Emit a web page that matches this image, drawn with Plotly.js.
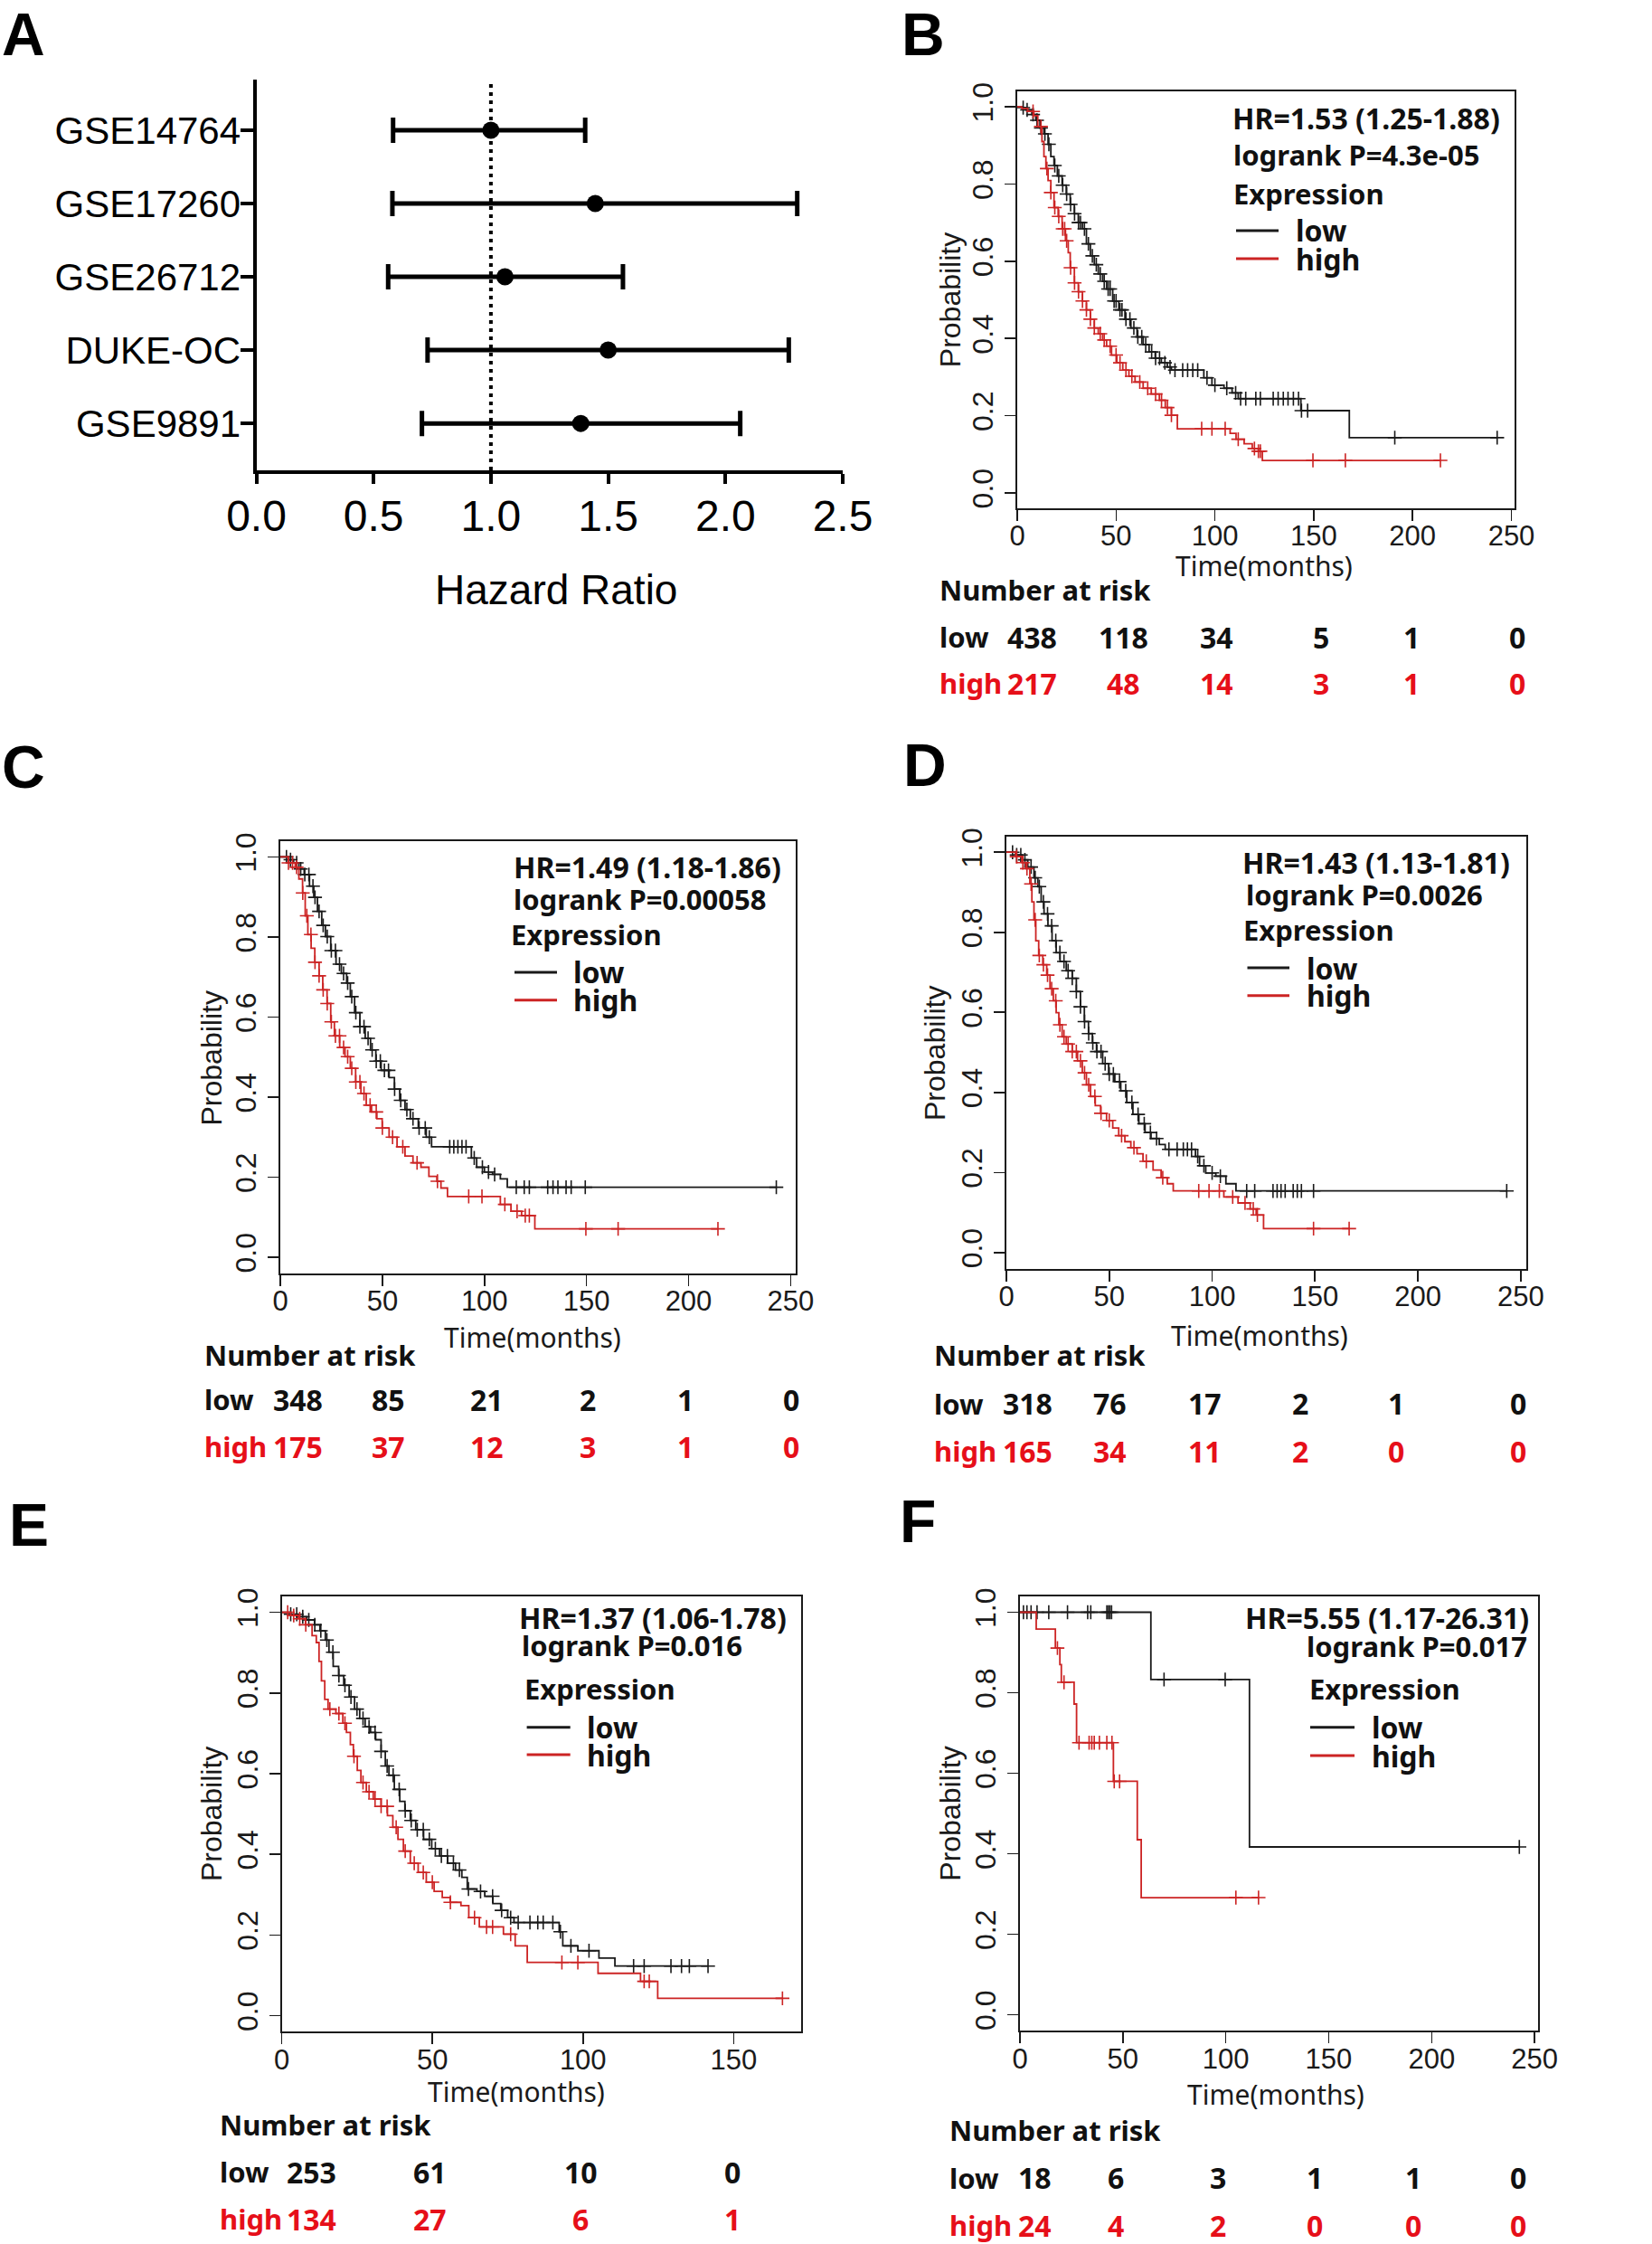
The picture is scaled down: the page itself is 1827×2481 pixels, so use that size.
<!DOCTYPE html>
<html>
<head>
<meta charset="utf-8">
<script src="https://cdn.plot.ly/plotly-3.0.1.min.js"></script>
<style>
html,body{margin:0;padding:0;background:#fff;}
#chart{width:1827px;height:2481px;}
</style>
</head>
<body>
<div id="chart"></div>
<script>
// ---------------- DATA ----------------
// Panel A: forest plot
const datasets = ['GSE14764','GSE17260','GSE26712','DUKE-OC','GSE9891'];
const hr       = [1.00, 1.445, 1.06, 1.50, 1.383];
const ciLow    = [0.583, 0.58, 0.562, 0.73, 0.706];
const ciHigh   = [1.402, 2.306, 1.563, 2.27, 2.063];
const refHR    = 1.0;
const hrTicks  = [0, 0.5, 1.0, 1.5, 2.0, 2.5];
const hrTickText = ['0.0','0.5','1.0','1.5','2.0','2.5'];

// Kaplan-Meier tick labels
const probTicks = [0, 0.2, 0.4, 0.6, 0.8, 1.0];
const probTickText = ['0.0','0.2','0.4','0.6','0.8','1.0'];
const timeTicks250 = [0, 50, 100, 150, 200, 250];
const timeTicks150 = [0, 50, 100, 150];

// Panel B
const bLowT = [0,2.3,4.3,7.4,9.4,11.5,13.5,15.6,17,18.6,20.3,22.7,24.8,26.8,28.9,30.9,33,35,37,39,41,43.2,45.2,48.3,51.4,54.5,57.5,60.6,63.7,66.7,69.8,72.9,75.9,78,94.4,98.5,104.6,108.7,111.8,143.5,168,242.8];
const bLowS = [1,0.998,0.992,0.98,0.965,0.945,0.93,0.903,0.871,0.848,0.821,0.797,0.774,0.747,0.723,0.70,0.684,0.645,0.614,0.591,0.567,0.548,0.528,0.497,0.474,0.45,0.427,0.404,0.384,0.365,0.349,0.337,0.326,0.318,0.298,0.279,0.271,0.259,0.244,0.213,0.143,0.143];
const bLowCens = [3,5,8,10,12,14,16,19,21,23,25,27,29,31,32,34,36,38,40,42,44,46,47,49,50,52,53,55,57,59,61,63,65,68,70,72,74.7,77.3,79.8,83.7,86.2,88.8,91.3,96,100,106,110.5,113,115.6,120.7,123,129.5,132,134.6,137,139.7,142.3,143.8,146.9,191,242.8];
const bHighT = [0,2.3,5.3,8.4,10.4,12.5,13.5,14.5,15.6,17,18.6,20.7,22.7,24.4,25.8,26.8,28.9,30.9,33,35,37,39,41,43.2,45.2,47.7,50.4,53.4,56.5,59.6,63.7,67.8,71.9,74.9,78,81,107.7,110.7,114.8,118.9,122,124,214.1];
const bHighS = [1,0.996,0.988,0.977,0.949,0.91,0.871,0.84,0.809,0.778,0.739,0.716,0.684,0.653,0.622,0.583,0.544,0.521,0.497,0.474,0.45,0.427,0.412,0.396,0.38,0.357,0.337,0.318,0.302,0.287,0.271,0.256,0.24,0.221,0.201,0.166,0.154,0.139,0.127,0.115,0.108,0.084,0.084];
const bHighCens = [8,12,15,17,19,21,23,24,25,27,29,31,33,35,37,39,42,44,47,50,52,55,58,62,66,70,73,76,78,93.3,98.5,105.2,111.8,120,122,123,149.6,166,214.1];
const bRiskLow  = [438,118,34,5,1,0];
const bRiskHigh = [217,48,14,3,1,0];
const bHR = 'HR=1.53 (1.25-1.88)';
const bP  = 'logrank P=4.3e-05';

// Panel C
const cLowT = [0,3.9,6.5,9.1,11.7,14.3,16.4,18.2,20.3,22.1,24.7,27.3,29.9,32.5,34.3,36.4,39,41.6,44.2,46.8,49.4,53.3,55.9,58.5,61.1,63.7,67.6,71.5,74.1,93.6,96.2,100,104,107.8,111.2,243];
const cLowS = [1,0.993,0.985,0.97,0.956,0.927,0.899,0.864,0.829,0.801,0.766,0.732,0.709,0.685,0.651,0.611,0.576,0.547,0.518,0.49,0.467,0.449,0.42,0.392,0.369,0.346,0.323,0.30,0.276,0.248,0.225,0.213,0.207,0.196,0.175,0.175];
const cLowCens = [3,5,8,10,12,14,16,17,19,21,23,25,27,29,31,33,35,37,39,41,43,45,47,49,51,53,56,59,62,65,68,71,73,83,85,87,89,91,95,99,102,105,115.6,119.5,122,131,133.6,136,140,142.5,149.4,243];
const cHighT = [0,3.9,7.3,9.1,10.9,12.2,13.5,15.1,16.9,19,20.8,22.9,24.7,26.5,29.1,31.7,34.3,36.9,39.5,42.1,44.7,47.3,49.9,53.3,57.2,61.1,65,68.9,72.8,76.7,78.7,81.9,107.8,113,118.2,124.7,214.4];
const cHighS = [1,0.985,0.974,0.945,0.91,0.853,0.806,0.772,0.737,0.703,0.668,0.634,0.588,0.553,0.524,0.501,0.472,0.438,0.409,0.38,0.363,0.346,0.323,0.30,0.276,0.253,0.236,0.225,0.202,0.19,0.173,0.152,0.132,0.115,0.104,0.071,0.071];
const cHighCens = [4,6,8,11,13,15,17,19,21,23,25,27,29,31,33,35,37,39,41,44,47,50,55,60,67,77,92.3,98.8,110,116,120,122,149.7,165.5,214.4];
const cRiskLow  = [348,85,21,2,1,0];
const cRiskHigh = [175,37,12,3,1,0];
const cHR = 'HR=1.49 (1.18-1.86)';
const cP  = 'logrank P=0.00058';

// Panel D
const dLowT = [0,4.5,7.5,10.4,13.4,15.3,16.9,18.3,20.2,22.2,24.2,26.1,29.1,32,34,36,37.9,39.9,41.8,43.8,46.8,49.7,52.7,55.6,58.5,61.5,64.4,67.4,70.3,74.3,77.2,91.9,93.9,96.9,101.8,106.7,111.6,243.2];
const dLowS = [1,0.993,0.981,0.963,0.936,0.914,0.876,0.846,0.816,0.779,0.749,0.727,0.704,0.685,0.652,0.614,0.577,0.547,0.524,0.502,0.472,0.446,0.427,0.404,0.375,0.345,0.322,0.30,0.285,0.27,0.258,0.24,0.217,0.199,0.191,0.172,0.154,0.154];
const dLowCens = [3,5,7,9,12,14,16,18,20,22,24,26,28,30,32,34,36,38,40,42,44,46,48,50,52,55,58,61,64,67,70,73,79,83,86,88,90,93,96,100,104,116.8,120.7,129.6,131.6,133.5,135.5,139.4,141.4,143.4,149.3,243.2];
const dHighT = [0,4.5,7.5,9.4,11.4,12.4,13.4,14.3,15.7,17.7,19.6,21.2,22.8,24.2,25.5,27.1,29.1,32,34.6,36.9,38.9,40.9,43.2,45.8,48.7,51.7,54.6,57.6,60.5,63.5,66.4,71.3,75.2,78.2,81.1,105.7,112.6,118.5,121.4,125,166.6];
const dHighS = [1,0.989,0.974,0.959,0.921,0.876,0.831,0.779,0.742,0.719,0.693,0.659,0.629,0.599,0.569,0.539,0.521,0.502,0.479,0.449,0.419,0.39,0.367,0.348,0.33,0.311,0.292,0.277,0.262,0.247,0.228,0.206,0.187,0.172,0.154,0.139,0.124,0.109,0.094,0.06,0.06];
const dHighCens = [5,8,10,12,14,16,18,20,22,24,26,28,30,32,34,36,38,40,43,46,50,56,62,68,76,93.5,98.5,103.5,110,116,120,122,149.3,166.6];
const dRiskLow  = [318,76,17,2,1,0];
const dRiskHigh = [165,34,11,2,0,0];
const dHR = 'HR=1.43 (1.13-1.81)';
const dP  = 'logrank P=0.0026';

// Panel E
const eLowT = [0,3,5.6,8.3,10.9,12.7,14.5,15.7,17.1,18.9,20.6,22.4,24.2,25.9,27.7,29.5,31.2,33,34.4,35.6,37.4,39.2,40.9,42.7,44.5,47.1,49.8,52.4,55.1,57.7,59.8,61.6,64.8,67.4,70.1,72.7,75,77.1,92.1,93.3,98.3,105.3,110.6,141.5];
const eLowS = [1,0.995,0.989,0.981,0.969,0.954,0.931,0.901,0.866,0.843,0.819,0.79,0.76,0.737,0.716,0.702,0.684,0.655,0.619,0.596,0.561,0.531,0.508,0.484,0.461,0.437,0.414,0.396,0.378,0.361,0.343,0.314,0.308,0.296,0.278,0.261,0.243,0.231,0.208,0.173,0.161,0.143,0.123,0.123];
const eLowCens = [3,5,7,9,11,13,15,17,19,21,23,25,27,29,31,33,35,37,39,41,43,45,47,49,51,53,55,57,59,62,66,70,73,76,78.5,82.4,85,86.8,90,92.5,96,102,116.8,120.3,129.2,132.7,135.3,141.5];
const eHighT = [0,3,5.6,7.9,10.1,11.5,12.4,13.2,14.3,15.4,18,20.3,21.5,22.8,23.8,25.1,26.3,28.1,30.4,33,35.1,36.9,38.6,40.4,42.7,45.3,48,50.6,53.3,55.9,59.5,62.1,65.6,73.6,77.5,81.5,105,119.1,124.8,166.2];
const eHighS = [1,0.992,0.984,0.969,0.942,0.925,0.878,0.83,0.784,0.76,0.749,0.725,0.702,0.672,0.643,0.608,0.578,0.555,0.537,0.519,0.496,0.467,0.437,0.408,0.378,0.355,0.331,0.308,0.293,0.281,0.273,0.243,0.22,0.202,0.173,0.132,0.105,0.085,0.043,0.043];
const eHighCens = [2,4,6,8,16,19,21,24,27,29,31,33,35,38,41,44,47,50,56,64,68,70,76,93,98.3,120.3,122,166.2];
const eRiskLow  = [253,61,10,0];
const eRiskHigh = [134,27,6,1];
const eHR = 'HR=1.37 (1.06-1.78)';
const eP  = 'logrank P=0.016';

// Panel F
const fLowT = [0,63.6,111.5,242.6];
const fLowS = [1,0.833,0.417,0.417];
const fLowCens = [1.7,3.4,5.4,8.3,14,23.1,32.9,34.4,42.2,43,43.7,44.5,70,99.7,242.6];
const fHighT = [0,7.9,17.2,19.4,20.1,26.3,27.5,45.4,57,58.9,115.9];
const fHighS = [1,0.958,0.911,0.87,0.826,0.772,0.676,0.58,0.435,0.291,0.291];
const fHighCens = [18.2,21.4,28.7,33.6,34.9,36.1,38.6,42.2,44.7,45.8,48.4,104.9,115.9];
const fRiskLow  = [18,6,3,1,1,0];
const fRiskHigh = [24,4,2,0,0,0];
const fHR = 'HR=5.55 (1.17-26.31)';
const fP  = 'logrank P=0.017';

// ---------------- LAYOUT HELPERS ----------------
const W = 1827, H = 2481;
const PX = x => x / W;
const PY = y => 1 - y / H;
const ARIAL = '"Liberation Sans", Arial, Helvetica, sans-serif';
const SANS = '"Noto Sans", "Open Sans", sans-serif';
const BLACK = '#1a1a1a';
const LINE_RED = '#cc2424';
const TEXT_RED = '#e60f19';

function survAt(T, S, t) {
  let v = S[0];
  for (let i = 0; i < T.length; i++) { if (T[i] <= t) v = S[i]; else break; }
  return v;
}

const traces = [];
const shapes = [];
const annotations = [];
const layout = {
  width: W, height: H,
  margin: {l: 0, r: 0, t: 0, b: 0},
  paper_bgcolor: '#fff', plot_bgcolor: 'rgba(0,0,0,0)',
  showlegend: false,
  font: {family: ARIAL, color: '#000'}
};

function txt(text, x, y, size, opts) {
  opts = opts || {};
  annotations.push({
    text: text, xref: 'paper', yref: 'paper', x: PX(x), y: PY(y),
    xanchor: opts.xanchor || 'left', yanchor: 'middle', showarrow: false,
    textangle: opts.angle || 0,
    font: {family: opts.family || SANS, size: size, color: opts.color || '#000'}
  });
}

// ---------------- PANEL A ----------------
layout.xaxis = {
  domain: [PX(283.5), PX(932)], range: [0, 2.5], anchor: 'y',
  tickvals: hrTicks, ticktext: hrTickText,
  showline: true, linewidth: 4, linecolor: '#000',
  ticks: 'outside', ticklen: 11, tickwidth: 4, tickcolor: '#000',
  ticklabelstandoff: -6,
  tickfont: {family: ARIAL, size: 48, color: '#000'},
  showgrid: false, zeroline: false
};
layout.yaxis = {
  domain: [PY(520), PY(88)], type: 'category',
  categoryorder: 'array', categoryarray: datasets,
  range: [4.64, -0.69], anchor: 'x',
  showline: true, linewidth: 4, linecolor: '#000',
  ticks: 'outside', ticklen: 14, tickwidth: 4, tickcolor: '#000',
  ticklabelstandoff: -9,
  tickfont: {family: ARIAL, size: 42, color: '#000'},
  showgrid: false, zeroline: false
};
shapes.push({
  type: 'line', xref: 'x', yref: 'y domain', x0: refHR, x1: refHR, y0: 0, y1: 1,
  line: {color: '#000', width: 4, dash: '4px,5px'}, layer: 'below'
});
traces.push({
  type: 'scatter', mode: 'markers', x: hr, y: datasets, xaxis: 'x', yaxis: 'y',
  marker: {size: 19, color: '#000'},
  error_x: {
    type: 'data', symmetric: false,
    array: ciHigh.map((v, i) => v - hr[i]),
    arrayminus: hr.map((v, i) => v - ciLow[i]),
    color: '#000', thickness: 5, width: 14
  },
  hoverinfo: 'skip'
});
txt('Hazard Ratio', 615, 652, 46, {family: ARIAL, xanchor: 'center'});

// ---------------- KM PANELS ----------------
const panels = [
  {n: 2, T: [bLowT, bLowS, bLowCens, bHighT, bHighS, bHighCens], risk: [bRiskLow, bRiskHigh], hrT: bHR, pT: bP,
   box: [1125, 1675, 101, 562], xmax: 251.6, xt: timeTicks250,
   prob: [1050.7, 331.5], time: [1398, 625],
   hr: [1361, 130, 'left'], p: [1362, 171, 'left'], exp: [1362, 214], leg: [1367, 1414, 1431, 255, 286],
   nr: [1037, 652, 704, 755], cols: [1141, 1242, 1345, 1461, 1561, 1678]},
  {n: 3, T: [cLowT, cLowS, cLowCens, cHighT, cHighS, cHighCens], risk: [cRiskLow, cRiskHigh], hrT: cHR, pT: cP,
   box: [310, 880, 929.7, 1407.8], xmax: 252.5, xt: timeTicks250,
   prob: [233.5, 1170], time: [589, 1478],
   hr: [566, 958.8, 'left'], p: [566, 993.5, 'left'], exp: [563, 1033], leg: [569, 616, 632, 1075, 1105.7],
   nr: [224, 1497.5, 1547, 1599], cols: [329, 429, 538, 650, 758, 875]},
  {n: 4, T: [dLowT, dLowS, dLowCens, dHighT, dHighS, dHighCens], risk: [dRiskLow, dRiskHigh], hrT: dHR, pT: dP,
   box: [1113, 1687.5, 924.5, 1402.6], xmax: 252.5, xt: timeTicks250,
   prob: [1034, 1165], time: [1393, 1476],
   hr: [1372, 953.8, 'left'], p: [1376, 988.7, 'left'], exp: [1373, 1028], leg: [1379.5, 1426, 1443, 1070, 1100.7],
   nr: [1031, 1498, 1551.7, 1604], cols: [1136, 1227, 1332, 1438, 1544, 1679]},
  {n: 5, T: [eLowT, eLowS, eLowCens, eHighT, eHighS, eHighCens], risk: [eRiskLow, eRiskHigh], hrT: eHR, pT: eP,
   box: [311.5, 886, 1764.7, 2246.4], xmax: 172.4, xt: timeTicks150,
   prob: [233.5, 2005.6], time: [571, 2312],
   hr: [572, 1788, 'left'], p: [575, 1818.6, 'left'], exp: [578, 1866.8], leg: [582.6, 630.7, 647, 1909.8, 1940],
   nr: [240.5, 2348.5, 2401, 2453], cols: [344.5, 476, 642, 809.5]},
  {n: 6, T: [fLowT, fLowS, fLowCens, fHighT, fHighS, fHighCens], risk: [fRiskLow, fRiskHigh], hrT: fHR, pT: fP,
   box: [1128, 1701, 1764.7, 2245.4], xmax: 251.7, xt: timeTicks250,
   prob: [1050.7, 2005], time: [1410.6, 2315.5],
   hr: [1692.7, 1788, 'right'], p: [1691, 1819.7, 'right'], exp: [1446, 1866.8], leg: [1449, 1498, 1515, 1909.8, 1941],
   nr: [1048, 2355, 2407.7, 2460], cols: [1144, 1234, 1347, 1454, 1563, 1679]}
];

panels.forEach(p => {
  const xa = 'x' + p.n, ya = 'y' + p.n;
  layout['xaxis' + p.n] = {
    domain: [PX(p.box[0]), PX(p.box[1])], range: [0, p.xmax], anchor: ya,
    tickvals: p.xt, ticktext: p.xt.map(String),
    ticks: 'outside', ticklen: 12, tickwidth: 1.6, tickcolor: BLACK,
    ticklabelstandoff: -10,
    showline: true, mirror: true, linewidth: 2, linecolor: BLACK,
    tickfont: {family: ARIAL, size: 31, color: BLACK},
    showgrid: false, zeroline: false
  };
  layout['yaxis' + p.n] = {
    domain: [PY(p.box[3]), PY(p.box[2])], range: [-0.04, 1.04], anchor: xa,
    tickvals: probTicks, ticktext: probTickText, tickangle: -90,
    ticks: 'outside', ticklen: 12, tickwidth: 1.6, tickcolor: BLACK,
    showline: true, mirror: true, linewidth: 2, linecolor: BLACK,
    tickfont: {family: ARIAL, size: 32, color: BLACK},
    showgrid: false, zeroline: false
  };
  const [lT, lS, lC, hT, hS, hC] = p.T;
  [[lT, lS, lC, BLACK], [hT, hS, hC, LINE_RED]].forEach(([T, S, C, col]) => {
    traces.push({type: 'scatter', mode: 'lines', x: T, y: S, xaxis: xa, yaxis: ya,
      line: {shape: 'hv', color: col, width: 1.8}, hoverinfo: 'skip'});
    traces.push({type: 'scatter', mode: 'markers', x: C, y: C.map(t => survAt(T, S, t)), xaxis: xa, yaxis: ya,
      marker: {symbol: 'cross-thin-open', size: 11, color: col, line: {width: 1.6, color: col}}, hoverinfo: 'skip'});
  });
  // axis titles
  txt('Probability', p.prob[0], p.prob[1], 32, {family: ARIAL, xanchor: 'center', angle: -90, color: BLACK});
  txt('Time(months)', p.time[0], p.time[1], 30, {family: SANS, xanchor: 'center', color: BLACK});
  // HR / logrank / legend
  txt('<b>' + p.hrT + '</b>', p.hr[0], p.hr[1], 32, {xanchor: p.hr[2], color: '#111'});
  txt('<b>' + p.pT + '</b>', p.p[0], p.p[1], 31, {xanchor: p.p[2], color: '#111'});
  txt('<b>Expression</b>', p.exp[0], p.exp[1], 31, {color: '#111'});
  shapes.push({type: 'line', xref: 'paper', yref: 'paper', x0: PX(p.leg[0]), x1: PX(p.leg[1]), y0: PY(p.leg[3]), y1: PY(p.leg[3]), line: {color: BLACK, width: 3}});
  shapes.push({type: 'line', xref: 'paper', yref: 'paper', x0: PX(p.leg[0]), x1: PX(p.leg[1]), y0: PY(p.leg[4]), y1: PY(p.leg[4]), line: {color: LINE_RED, width: 3}});
  txt('<b>low</b>', p.leg[2], p.leg[3], 32, {color: '#111'});
  txt('<b>high</b>', p.leg[2], p.leg[4], 32, {color: '#111'});
  // number at risk
  txt('<b>Number at risk</b>', p.nr[0], p.nr[1], 31, {color: '#111'});
  txt('<b>low</b>', p.nr[0], p.nr[2], 31, {color: '#111'});
  txt('<b>high</b>', p.nr[0], p.nr[3], 31, {color: TEXT_RED});
  p.risk[0].forEach((v, i) => txt('<b>' + v + '</b>', p.cols[i], p.nr[2], 32, {xanchor: 'center', color: '#111'}));
  p.risk[1].forEach((v, i) => txt('<b>' + v + '</b>', p.cols[i], p.nr[3], 32, {xanchor: 'center', color: TEXT_RED}));
});

// Panel letters
[['A', 0, 38], ['B', 995, 38], ['C', 0, 848], ['D', 997, 846], ['E', 8, 1686], ['F', 993, 1682]].forEach(([l, x, y]) => {
  txt('<b>' + l + '</b>', x, y, 66, {family: ARIAL, color: '#000'});
});

layout.shapes = shapes;
layout.annotations = annotations;

Plotly.newPlot('chart', traces, layout, {displayModeBar: false, staticPlot: true});
</script>
</body>
</html>
